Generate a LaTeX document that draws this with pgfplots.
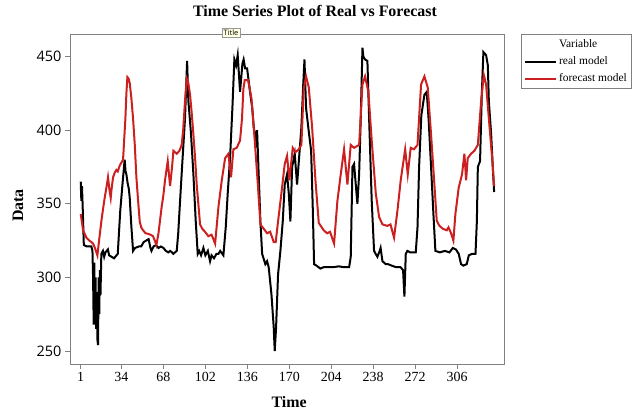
\documentclass[border=0pt]{standalone}
\usepackage{fontspec}
\setmainfont{Liberation Serif}
\newfontfamily\ticksans{Open Sans}
\usepackage{pgfplots}
\pgfplotsset{compat=1.18}
\definecolor{fcred}{HTML}{CC2020}
\definecolor{frame}{HTML}{808080}
\definecolor{tipfill}{HTML}{FFFFE1}

\begin{document}
\begin{tikzpicture}
\useasboundingbox (0,0) rectangle (642bp,416bp);
\begin{axis}[
  at={(70bp,52bp)}, anchor=south west,
  scale only axis, width=434bp, height=330bp,
  xmin=-7.7, xmax=344, ymin=241.2, ymax=465.3,
  xtick={1,34,68,102,136,170,204,238,272,306},
  ytick={250,300,350,400,450},
  tick pos=left, tick align=outside, major tick length=5bp,
  tick style={frame, line width=0.8bp},
  axis line style={frame, line width=0.8bp},
  /pgf/number format/assume math mode=true,
  xticklabel style={font=\fontsize{14}{14}\selectfont},
  yticklabel style={font=\ticksans\fontsize{14.5}{14.5}\selectfont},
  xlabel={Time}, ylabel={Data},
  xlabel style={font=\bfseries\fontsize{16}{16}\selectfont, at={(axis description cs:0.505,0)}, anchor=base, yshift=-43bp},
  ylabel style={font=\bfseries\fontsize{16}{16}\selectfont, at={(axis description cs:-0.12,0.48)}, anchor=center},
  title={Time Series Plot of Real vs Forecast},
  title style={font=\bfseries\fontsize{16}{16}\selectfont, at={(axis description cs:0.5645,1)}, anchor=base, yshift=12bp},
  legend style={at={(axis description cs:1.0385,1)}, anchor=north west, draw=frame, line width=0.8bp,
    font=\fontsize{11.5}{12}\selectfont, inner xsep=3bp, inner ysep=3.5bp, row sep=3.5bp},
  legend cell align=left,
  legend image code/.code={\draw[#1] (0bp,0bp) -- (31bp,0bp);},
]
\addlegendimage{white, line width=0pt}
\addlegendentry{Variable}
% real model
\addplot[black, line width=2bp] coordinates {
(1,365) (1.5,352) (2,362) (2.5,350) (3.5,322) (6,321) (9.6,321) (10.5,318) (11,300) (11.5,268)
(12,310) (12.5,268) (13,300) (13.5,265) (14,290) (14.5,258) (15,254) (15.5,300) (16,275) (16.5,305)
(17,288) (17.7,316) (19,318) (20,314) (21,317) (23,319) (24,315) (26,314) (28,313) (30,315)
(31,316) (33,345) (35,365) (36.6,380) (37.3,372) (38,370) (39,364) (40,360) (40.7,354) (42,335)
(43.4,318) (45,320) (48,321) (50,321) (52,324) (54,325) (56,326) (57.5,320) (58.3,318) (60,321)
(62,322) (64,320) (66,321) (68,320) (70,318) (72,317) (73.4,318) (75,317) (76,316) (78.8,318)
(80,330) (81.5,352) (83.4,379) (85.5,408) (87.2,447) (88.2,420) (89,412) (90.4,397) (92.3,370) (94.2,338)
(95.8,316) (97,318) (98.5,315) (100.4,320) (102,315) (104,318) (105.8,311) (107,315) (109,313) (111,316)
(112.6,316) (114,318) (116.6,315) (118.5,334) (120.1,357) (122,381) (123.9,415) (125.5,448) (126.9,444) (128.2,451)
(130.1,426) (132,445) (133,448) (134.2,442) (135.8,442) (138.5,424) (140,415) (141.2,402) (143.1,393) (143.9,400)
(145.2,370) (146.6,338) (148,316) (150.6,309) (152,311) (153.3,307) (155.5,289) (157.4,266) (158.2,250) (159.3,266)
(160.9,302) (162.8,318) (164.7,338) (166.3,363) (168.2,370) (169.6,357) (170.9,338) (172.3,375) (174.4,384) (176.3,363)
(178.2,384) (179.8,402) (181.2,429) (182.3,448) (183.6,415) (185.8,399) (187.7,386) (189,348) (190.1,309) (192,308)
(195.2,306) (198,307) (202.3,307) (206,307) (210,307.5) (214,307) (218.5,307) (219.8,314) (221.2,375) (222.5,377)
(223.9,363) (225.2,350) (226.6,370) (227.9,408) (229.3,456) (230,450) (231.4,448) (233.3,447) (234.7,408) (236.8,352)
(238.7,318) (240,316) (241.4,314) (243.3,318) (244,320) (245.5,311) (248.2,309) (250,309) (253,308) (256.3,307)
(260,307) (262.2,305) (263.3,287) (264.4,316) (265.7,318) (268,317) (272.5,317) (273.9,334) (275.2,375) (277,410)
(279.5,424) (281.4,426) (283,406) (284.9,375) (286.8,343) (288.4,318) (292,317) (296,318) (299.8,317) (302.5,320)
(305,319) (307.3,316) (309.2,309) (311,308) (313.8,309) (315.5,315) (318,316) (320.9,316) (322,338) (322.8,375)
(324.6,379) (326,424) (327.3,453) (329.5,451) (330.9,444) (331.7,420) (333.6,397) (334.9,375) (336,358)
};
\addlegendentry{real model}
% forecast model
\addplot[fcred, line width=2bp] coordinates {
(1,343) (2.9,332) (5.6,327) (8,325) (9.6,324) (11,323) (12.5,320) (14.5,315) (16,326) (17.7,338)
(19,346) (20.4,354) (22,362) (23.1,368) (24.2,360) (25.3,354) (26,360) (27.2,368) (28.5,371) (29.9,373)
(31,372) (32.6,376) (34,378) (35.3,380) (36.3,395) (37.2,408) (38,425) (38.8,436) (39.8,435) (40.7,432)
(42,422) (43.4,408) (44.8,390) (46.1,368) (47.5,352) (48.8,338) (50,334) (51.5,332) (53.5,330) (55.5,329.6)
(57.5,329) (59.6,328) (61,325) (62.3,322) (64,330) (66.6,348) (68,356) (69.3,366) (71.5,379) (73.4,362)
(75,375) (76.1,386) (78.8,384) (81,386) (82.8,390) (84,400) (85.5,420) (86.9,435) (88.2,432) (89.6,424)
(90.9,412) (92.3,397) (93.6,382) (95,363) (96.3,350) (97.7,336) (99.5,333) (101.7,331) (104.4,328) (107,329)
(108.5,326) (109.9,323) (111.2,335) (112.6,348) (115.3,366) (118,381) (120.7,384) (122.8,368) (124.7,387) (127.4,388)
(130.1,393) (131.7,408) (132.8,428) (133.9,434) (136.6,434) (139.3,422) (142,393) (144.7,361) (146.6,336) (149.3,333)
(152,330) (154.5,331) (157.4,324) (159,324) (160.9,338) (163.6,357) (166.3,377) (168.2,382.5) (170.1,366) (172.8,388)
(175,385) (177.7,387) (179.8,390) (181.7,428) (183.6,436.5) (185.8,429) (188.5,402) (191.2,366) (193.9,337) (197.9,332)
(200.6,330) (203,331) (206.3,323) (209,352) (211.7,370) (214.4,387) (217.1,363) (219.8,390) (222.5,388) (226.6,390)
(229.3,431) (231.4,436.5) (234.1,426) (236.8,393) (240.1,357) (242.8,341) (245.5,336) (249.5,335) (252,336) (254.9,327)
(257.6,345) (260.3,366) (263.9,387) (266,370) (268.4,388) (271,387) (273.9,390) (276.8,431) (279.5,436.5) (282.2,429)
(284.9,397) (287.6,363) (289.5,338.5) (291.7,335) (294.5,333) (297.6,332) (299,334) (301.1,330) (303,325) (304.6,343)
(307.3,361) (310,370) (311.9,384) (313.3,366) (314.6,381) (317.3,384) (320,386) (322.8,390) (325.5,420) (327.6,437.6)
(329.5,431) (331.7,408) (334.4,381) (336,362)
};
\addlegendentry{forecast model\hspace{20bp}}
\end{axis}
\node[draw=frame!80, fill=tipfill, font=\ticksans\fontsize{7.5}{7.5}\selectfont, inner sep=1.5bp] at (231bp,383.5bp) {Title};
\end{tikzpicture}
\end{document}
